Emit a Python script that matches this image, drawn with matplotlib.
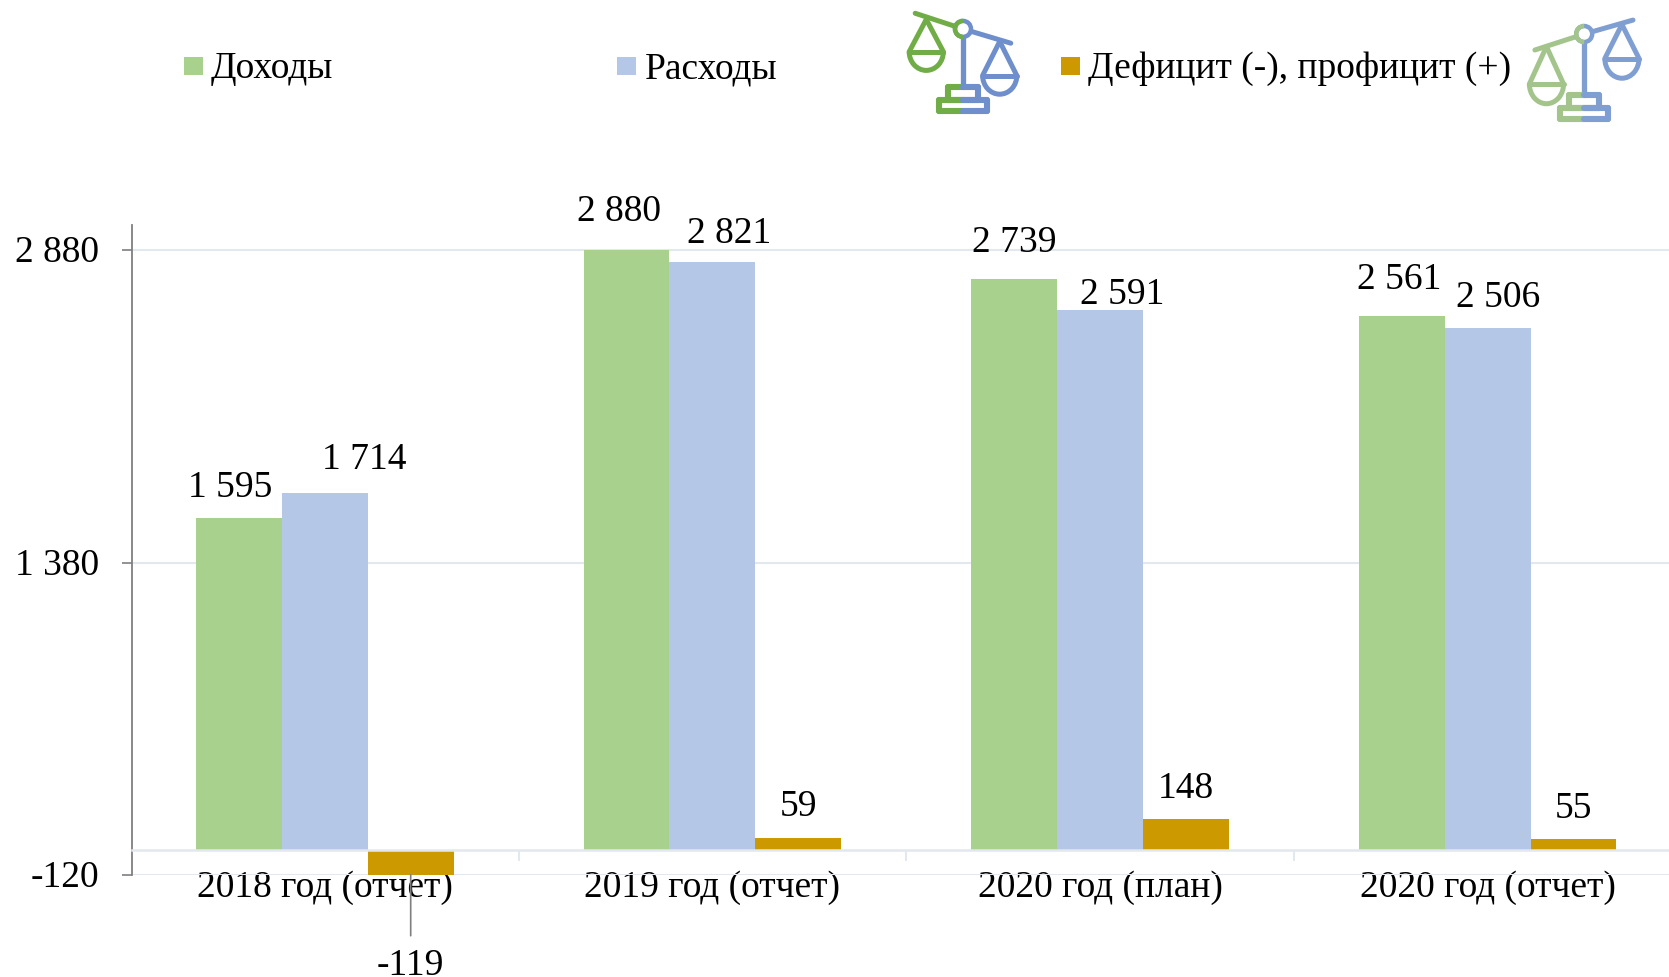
import matplotlib
matplotlib.use("Agg")
import matplotlib.pyplot as plt
from matplotlib.patches import Arc, Circle, Rectangle
from matplotlib.transforms import ScaledTranslation
import numpy as np

categories = ["2018 год (отчет)", "2019 год (отчет)", "2020 год (план)", "2020 год (отчет)"]
income = [1595, 2880, 2739, 2561]
expense = [1714, 2821, 2591, 2506]
balance = [-119, 59, 148, 55]
y_ticks = [2880, 1380, -120]
legend_names = ["Доходы", "Расходы", "Дефицит (-), профицит (+)"]

# manual label offsets in pixels (dx, dy above bar end)
income_off = [(-9, 31), (-8, 39), (0, 38), (-3, 38)]
expense_off = [(39, 34), (17, 30), (22, 16), (11, 31)]
balance_off = [(0, 0), (0, 32), (0, 31), (0, 31)]

GREEN, BLUE, GOLD = "#A9D18E", "#B4C7E7", "#CC9900"
GRID, AXC = "#E3E8EF", "#7F7F7F"
FS = 27
W, H = 1669, 978

plt.rcParams["font.family"] = ["Liberation Serif", "DejaVu Serif"]
fig = plt.figure(figsize=(W / 100, H / 100), dpi=100, facecolor="white")
ax = fig.add_axes([132 / W, 1 - 876 / H, (W - 132) / W, 650 / H])

spacing = 387.6
x = np.arange(len(categories))
bw = 0.2216


def fmt(v):
    return f"{v:,}".replace(",", " ")


ax.bar(x - bw, income, bw, color=GREEN, zorder=2)
ax.bar(x, expense, bw, color=BLUE, zorder=2)
ax.bar(x + bw, balance, bw, color=GOLD, zorder=2)

for xs, vals, offs in [(x - bw, income, income_off), (x, expense, expense_off), (x + bw, balance, balance_off)]:
    for xi, v, (dx, dy) in zip(xs, vals, offs):
        if v < 0:
            ax.annotate(fmt(v), xy=(xi, v), xytext=(0, -90 * 0.72), textcoords="offset points",
                        ha="center", va="center", fontsize=FS, color="black", annotation_clip=False,
                        arrowprops=dict(arrowstyle="-", color=AXC, lw=1.2, shrinkA=6.5, shrinkB=0,
                                        relpos=(0.5, 1)))
        else:
            ax.annotate(fmt(v), xy=(xi, v), xytext=(dx * 0.72, dy * 0.72), textcoords="offset points",
                        ha="center", va="center", fontsize=FS, color="black")

for s in ("top", "right"):
    ax.spines[s].set_visible(False)
ax.spines["left"].set_color(AXC)
ax.spines["left"].set_linewidth(1.3)
ax.spines["bottom"].set_position(("data", 0))
ax.spines["bottom"].set_color(GRID)
ax.spines["bottom"].set_linewidth(1.8)

ax.set_yticks(y_ticks)
ax.set_yticklabels([fmt(v) for v in y_ticks], fontsize=FS)
ax.tick_params(axis="y", length=7.5, width=1.2, color=AXC, pad=16)
for lab in ax.get_yticklabels():
    lab.set_transform(lab.get_transform() + ScaledTranslation(0, 2 / 100, fig.dpi_scale_trans))
ax.grid(axis="y", color=GRID, lw=1.5, zorder=0)
ax.set_axisbelow(True)

ax.set_xticks(x)
ax.set_xticklabels(categories, fontsize=FS, zorder=5)
ax.tick_params(axis="x", which="major", length=0, pad=14)
ax.set_xticks(np.arange(-0.5, 3, 1), minor=True)
ax.tick_params(axis="x", which="minor", length=8, width=1.5, color=GRID)
ax.set_xlim(-0.5 + 1 / spacing, (W - 132) / spacing - 0.5 + 1 / spacing)
ax.set_ylim(-120, 3000)

# overlay in reference pixel coordinates for the legend and scale icons
ov = fig.add_axes([0, 0, 1, 1], facecolor="none")
ov.set_xlim(0, W)
ov.set_ylim(H, 0)
ov.axis("off")

for (mx, tx), name, col in zip([(184, 211), (617, 645), (1061, 1088)], legend_names, [GREEN, BLUE, GOLD]):
    ov.add_patch(Rectangle((mx, 57.5), 19, 18, color=col, lw=0))
    ov.text(tx, 69, name, fontsize=FS, va="center", ha="left", color="black")


def zx(v):
    return 880 + v * 0.503


def zy(v):
    return v * 0.34


def seg(a, b, c, d, col, lw=3.6):
    ov.plot([zx(a), zx(c)], [zy(b), zy(d)], color=col, lw=lw, solid_capstyle="round")


def pan(px, py, half, top, depth, col):
    seg(px, py, px - half, top, col)
    seg(px, py, px + half, top, col)
    seg(px - half, top, px + half, top, col)
    ov.add_patch(Arc((zx(px), zy(top)), (2 * half) * 0.503, 2 * depth * 0.34, theta1=0, theta2=180,
                     color=col, lw=3.6))


def scale_icon(g, b, left_p, right_p, piv, ends, half, ltop, rtop, depth, base):
    seg(ends[0], ends[1], piv[0], piv[1], g)
    seg(piv[0], piv[1], ends[2], ends[3], b)
    pan(left_p[0], left_p[1], half, ltop, depth, g)
    pan(right_p[0], right_p[1], half, rtop, depth, b)
    seg(piv[0], piv[1], piv[0], base, b, 3.8)
    ov.add_patch(Circle((zx(piv[0]), zy(piv[1])), 8, fc="white", ec=b, lw=3.2, zorder=4))
    ov.add_patch(Arc((zx(piv[0]), zy(piv[1])), 16, 16, theta1=90, theta2=270, color=g, lw=3.2, zorder=5))
    c = piv[0]
    for w, y0, y1 in [(30, base, base + 38), (48, base + 38, base + 70)]:
        seg(c - w, y0, c, y0, g, 4.4)
        seg(c, y0, c + w, y0, b, 4.4)
        seg(c - w, y1, c, y1, g, 4.4)
        seg(c, y1, c + w, y1, b, 4.4)
        seg(c - w, y0, c - w, y1, g, 4.4)
        seg(c + w, y0, c + w, y1, b, 4.4)


scale_icon("#70AD47", "#6E8FCB", (92, 60), (238, 125), (165, 88), (70, 42, 260, 130),
           34, 155, 225, 55, 260)
scale_icon("#A3C58C", "#7F9FD3", (1325, 140), (1475, 75), (1400, 103), (1302, 150, 1497, 62),
           34, 250, 175, 58, 283)

fig.savefig("out.png", dpi=100, facecolor="white")
